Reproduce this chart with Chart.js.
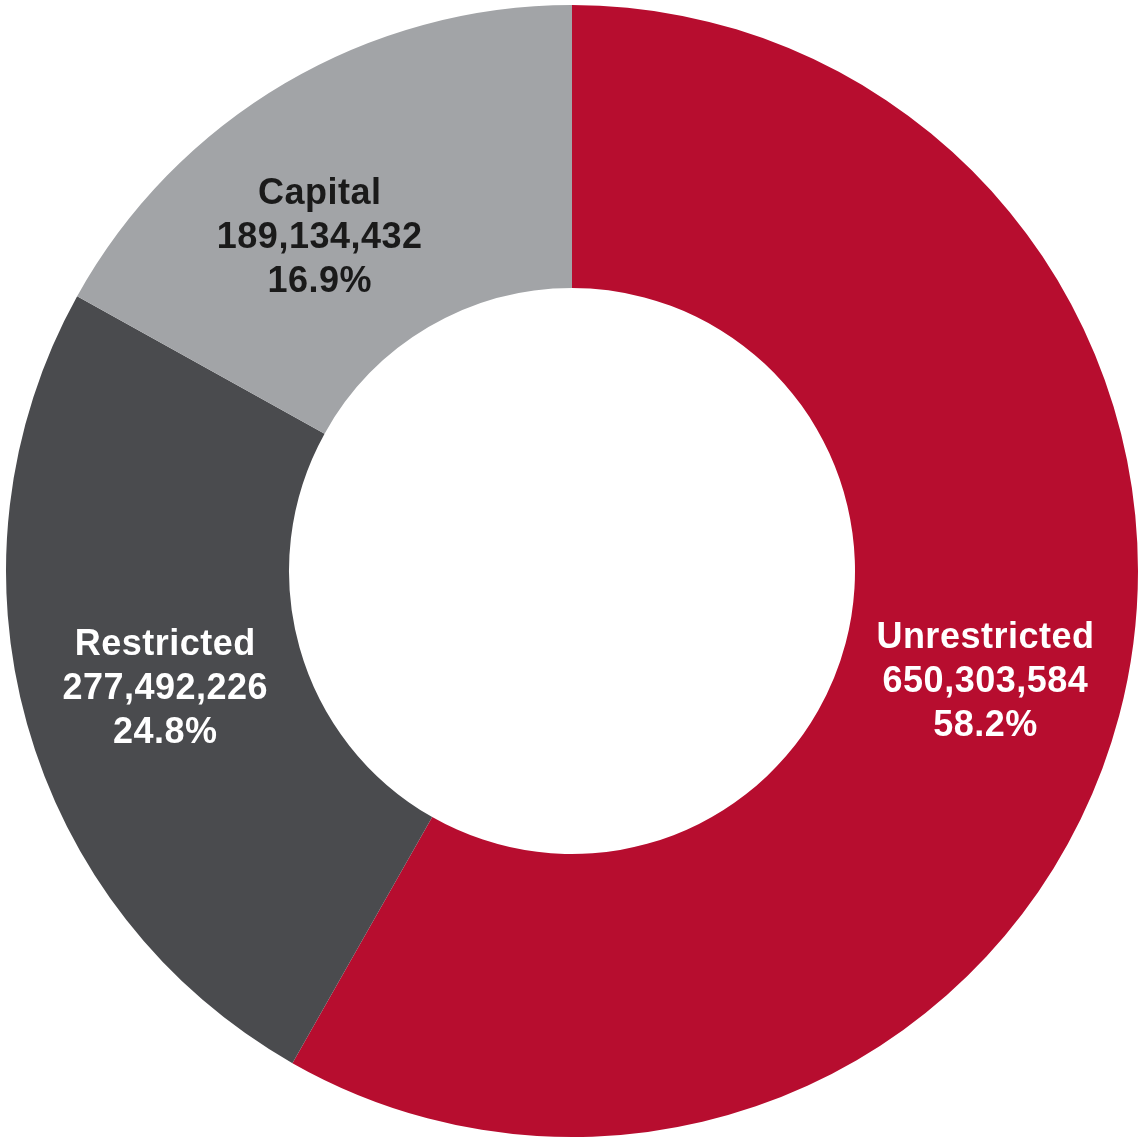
<!DOCTYPE html>
<html>
<head>
<meta charset="utf-8">
<script src="https://cdn.jsdelivr.net/npm/chart.js@4/dist/chart.umd.min.js"></script>
<style>
html,body{margin:0;padding:0;background:#fff;}
#wrap{position:relative;width:1140px;height:1142px;}
</style>
</head>
<body>
<div id="wrap"><canvas id="c"></canvas></div>
<script>
const categories = ["Unrestricted", "Restricted", "Capital"];
const values = [650303584, 277492226, 189134432];
const percents = ["58.2%", "24.8%", "16.9%"];
const colors = ["#B70D2F", "#4A4B4E", "#A2A4A7"];
const labelColors = ["#FFFFFF", "#FFFFFF", "#1A1A1A"];

const labelPlugin = {
  id: 'sliceLabels',
  afterDatasetsDraw(chart, args, opts) {
    const ctx = chart.ctx;
    const meta = chart.getDatasetMeta(0);
    ctx.save();
    ctx.font = 'bold 36px "Liberation Sans", Arial, sans-serif';
    if ('letterSpacing' in ctx) ctx.letterSpacing = '0.5px';
    ctx.textAlign = 'center';
    ctx.textBaseline = 'middle';
    meta.data.forEach((arc, i) => {
      const p = arc.getCenterPoint();
      const off = opts.offsets[i] || [0, 0];
      const x = p.x + off[0], y = p.y + off[1];
      const lines = [categories[i], values[i].toLocaleString('en-US'), percents[i]];
      ctx.fillStyle = labelColors[i];
      lines.forEach((t, k) => {
        ctx.fillText(t, x, y + (k - 1) * 44);
      });
    });
    ctx.restore();
  }
};

new Chart(document.getElementById('c'), {
  type: 'doughnut',
  data: {
    labels: categories,
    datasets: [{
      data: values,
      backgroundColor: colors,
      borderWidth: 0
    }]
  },
  options: {
    responsive: true,
    maintainAspectRatio: false,
    animation: false,
    cutout: '50%',
    layout: { padding: { left: 6, right: 2, top: 5, bottom: 5 } },
    plugins: {
      legend: { display: false },
      tooltip: { enabled: false },
      sliceLabels: { offsets: [[3, 3], [2, 3], [-37, 33]] }
    }
  },
  plugins: [labelPlugin]
});
</script>
</body>
</html>
